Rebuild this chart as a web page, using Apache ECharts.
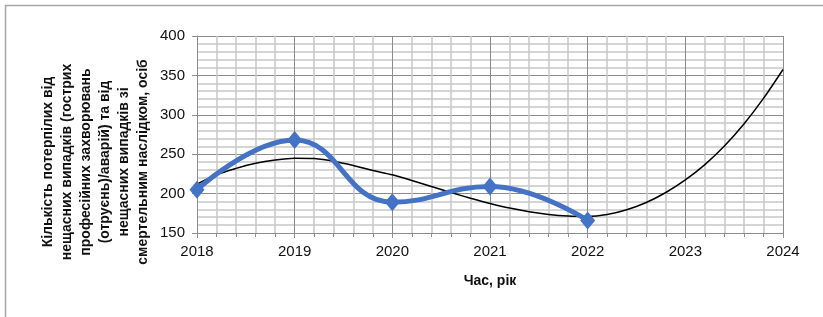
<!DOCTYPE html>
<html>
<head>
<meta charset="utf-8">
<script src="https://cdn.jsdelivr.net/npm/echarts@6/dist/echarts.min.js"></script>
<style>
  html, body { margin: 0; padding: 0; background: #fff; }
  #chart { width: 823px; height: 317px; }
</style>
</head>
<body>
<div id="chart"></div>
<script>
// observed values
const years = [2018, 2019, 2020, 2021, 2022];
const victims = [205, 268, 189, 209, 166];

// trend line (one reading per minor grid step)
const trendYears = [
  2018, 2018.2, 2018.4, 2018.6, 2018.8,
  2019, 2019.2, 2019.4, 2019.6, 2019.8,
  2020, 2020.2, 2020.4, 2020.6, 2020.8,
  2021, 2021.2, 2021.4, 2021.6, 2021.8,
  2022, 2022.2, 2022.4, 2022.6, 2022.8,
  2023, 2023.2, 2023.4, 2023.6, 2023.8,
  2024
];
const trendValues = [
  212, 224, 232, 238.5, 242.7,
  245, 244.4, 241, 235.6, 229.2,
  223.8, 216.6, 209, 201.4, 194.2,
  187.5, 181.6, 177, 173.5, 171.5,
  171, 173.5, 179.5, 188.7, 201.4,
  217.4, 236.8, 260.4, 288.3, 320.8,
  357.5
];

const yTitle = 'Кількість потерпілих від\nнещасних випадків (гострих\nпрофесійних захворювань\n(отруєнь)/аварій) та від\nнещасних випадків зі\nсмертельним наслідком, осіб';
const xTitle = 'Час, рік';

const chart = echarts.init(document.getElementById('chart'));

const option = {
  animation: false,
  backgroundColor: '#fff',
  grid: { left: 197, right: 40, top: 36, bottom: 84 },
  xAxis: {
    type: 'value',
    min: 2018,
    max: 2024,
    interval: 1,
    axisLine: { show: true, lineStyle: { color: '#8c8c8c', width: 1 } },
    axisTick: { show: true, length: 5, lineStyle: { color: '#8c8c8c' } },
    minorTick: { show: true, splitNumber: 5, length: 4, lineStyle: { color: '#8c8c8c' } },
    splitLine: { show: true, lineStyle: { color: '#8c8c8c', width: 1 } },
    minorSplitLine: { show: true, lineStyle: { color: '#c8c8c8', width: 1.5 } },
    axisLabel: {
      color: '#111',
      fontFamily: 'Liberation Sans, Arial, sans-serif',
      fontSize: 15,
      margin: 11,
      formatter: v => String(v)
    },
    name: xTitle,
    nameLocation: 'middle',
    nameGap: 41,
    nameTextStyle: {
      color: '#111',
      fontFamily: 'Liberation Sans, Arial, sans-serif',
      fontWeight: 'bold',
      fontSize: 14
    }
  },
  yAxis: {
    type: 'value',
    min: 150,
    max: 400,
    interval: 50,
    axisLine: { show: true, lineStyle: { color: '#8c8c8c', width: 1 } },
    axisTick: { show: true, length: 5, lineStyle: { color: '#8c8c8c' } },
    minorTick: { show: false, splitNumber: 5 },
    splitLine: { show: true, lineStyle: { color: '#8c8c8c', width: 1 } },
    minorSplitLine: { show: true, lineStyle: { color: '#c8c8c8', width: 1.5 } },
    axisLabel: {
      color: '#111',
      fontFamily: 'Liberation Sans, Arial, sans-serif',
      fontSize: 15,
      margin: 12
    }
  },
  graphic: [
    {
      type: 'rect',
      shape: { x: 5.5, y: 5.5, width: 900, height: 400 },
      style: { fill: 'none', stroke: '#a6a6a6', lineWidth: 1.5 },
      silent: true,
      z: -10
    },
    {
      type: 'text',
      x: 96,
      y: 162,
      rotation: Math.PI / 2,
      style: {
        text: yTitle,
        fill: '#111',
        font: 'bold 14px "Liberation Sans", Arial, sans-serif',
        align: 'center',
        verticalAlign: 'middle',
        lineHeight: 19
      }
    }
  ],
  series: [
    {
      name: 'trend',
      type: 'line',
      data: trendYears.map((y, i) => [y, trendValues[i]]),
      smooth: 0.3,
      showSymbol: false,
      lineStyle: { color: '#000', width: 1.5 },
      z: 3
    },
    {
      name: 'victims',
      type: 'line',
      data: years.map((y, i) => [y, victims[i]]),
      smooth: 0.45,
      symbol: 'diamond',
      symbolSize: [15, 18],
      itemStyle: { color: '#4472c4' },
      lineStyle: { color: '#4472c4', width: 5 },
      z: 4
    }
  ]
};

chart.setOption(option);
</script>
</body>
</html>
